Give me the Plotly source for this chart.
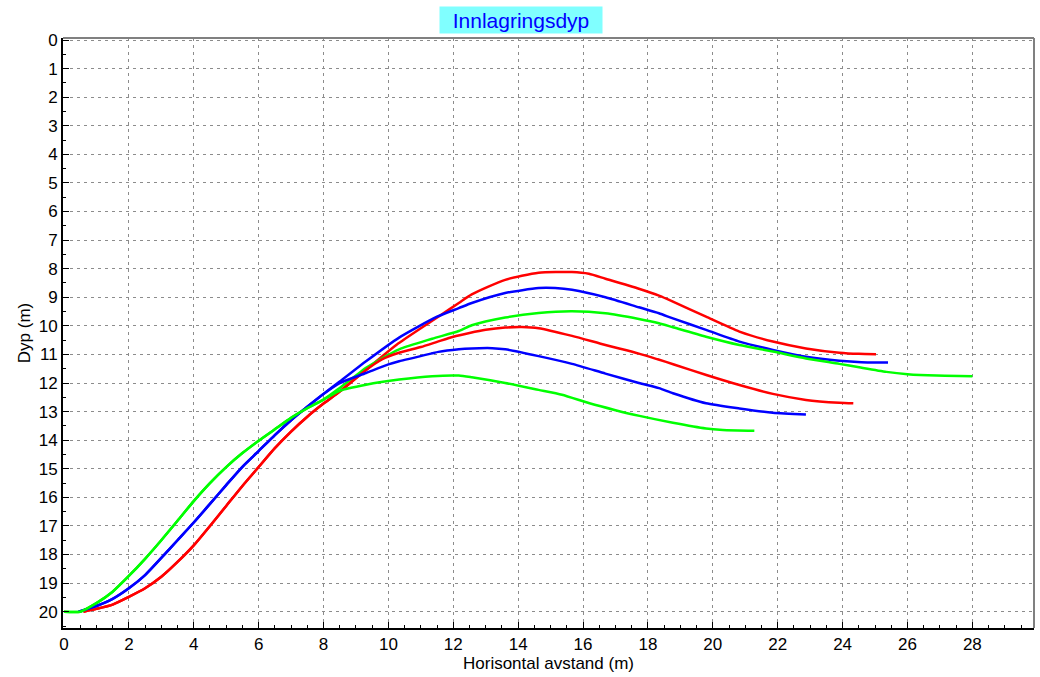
import plotly.graph_objects as go

# ---- data ----
red_upper_x = [0.6, 1.0, 1.5, 2.0, 2.5, 3.0, 3.5, 4.0, 4.5, 5.0, 5.5, 6.0, 6.5, 7.0, 7.5, 8.0, 8.5, 9.3, 10.3, 11.35, 11.55, 12.17, 12.57, 13.6, 14.63, 15.66, 16.18, 16.69, 17.72, 18.34, 18.77, 19.79, 20.82, 21.85, 22.87, 23.9, 24.5, 25.03]
red_upper_y = [20.0, 19.9, 19.75, 19.48, 19.18, 18.78, 18.26, 17.68, 17.0, 16.3, 15.6, 14.94, 14.28, 13.7, 13.18, 12.72, 12.3, 11.55, 10.62, 9.82, 9.67, 9.2, 8.9, 8.39, 8.14, 8.12, 8.18, 8.35, 8.7, 8.94, 9.15, 9.68, 10.2, 10.55, 10.79, 10.94, 10.98, 10.99]

red_lower_x = [0.6, 1.0, 1.5, 2.0, 2.5, 3.0, 3.5, 4.0, 4.5, 5.0, 5.5, 6.0, 6.5, 7.0, 7.5, 8.0, 8.5, 9.3, 9.8, 10.33, 11.0, 11.5, 12.0, 12.5, 13.0, 13.6, 14.11, 14.63, 15.66, 16.69, 17.72, 18.3, 18.8, 19.8, 20.82, 21.85, 22.87, 23.9, 24.33]
red_lower_y = [20.0, 19.9, 19.75, 19.48, 19.18, 18.78, 18.26, 17.68, 17.0, 16.3, 15.6, 14.94, 14.28, 13.7, 13.18, 12.72, 12.3, 11.55, 11.17, 10.94, 10.74, 10.56, 10.38, 10.25, 10.14, 10.06, 10.04, 10.08, 10.35, 10.67, 10.97, 11.17, 11.35, 11.72, 12.07, 12.38, 12.59, 12.69, 12.71]

blue_upper_x = [0.45, 1.0, 1.5, 2.0, 2.5, 3.0, 3.5, 4.0, 4.5, 5.0, 5.5, 6.0, 6.5, 7.0, 7.5, 8.0, 8.5, 9.31, 10.33, 11.5, 12.17, 12.57, 13.6, 14.63, 15.14, 15.66, 16.69, 17.72, 18.34, 18.77, 19.79, 20.82, 21.85, 22.87, 23.9, 24.58, 25.4]
blue_upper_y = [20.0, 19.8, 19.55, 19.18, 18.72, 18.12, 17.5, 16.88, 16.23, 15.57, 14.93, 14.38, 13.82, 13.3, 12.83, 12.38, 11.95, 11.24, 10.41, 9.68, 9.38, 9.2, 8.85, 8.68, 8.68, 8.74, 9.0, 9.35, 9.56, 9.74, 10.14, 10.55, 10.84, 11.08, 11.22, 11.27, 11.28]

blue_lower_x = [0.45, 1.0, 1.5, 2.0, 2.5, 3.0, 3.5, 4.0, 4.5, 5.0, 5.5, 6.0, 6.5, 7.0, 7.5, 8.0, 8.5, 9.31, 10.0, 10.33, 11.35, 11.54, 12.17, 12.57, 13.2, 13.6, 14.63, 15.66, 16.69, 17.72, 18.34, 18.77, 19.79, 20.82, 21.85, 22.87]
blue_lower_y = [20.0, 19.8, 19.55, 19.18, 18.72, 18.12, 17.5, 16.88, 16.23, 15.57, 14.93, 14.38, 13.82, 13.3, 12.83, 12.38, 12.0, 11.65, 11.35, 11.24, 10.96, 10.91, 10.82, 10.79, 10.78, 10.82, 11.06, 11.33, 11.67, 12.0, 12.18, 12.36, 12.71, 12.89, 13.04, 13.1]

green_upper_x = [0.0, 0.5, 1.0, 1.5, 2.0, 2.5, 3.0, 3.5, 4.0, 4.5, 5.0, 5.5, 6.0, 6.5, 7.0, 7.5, 8.0, 8.5, 9.0, 9.31, 10.33, 11.35, 12.17, 12.57, 13.6, 14.63, 15.66, 16.69, 17.72, 18.34, 18.77, 19.79, 20.82, 21.85, 22.87, 23.9, 24.51, 25.35, 26.0, 26.9, 28.0]
green_upper_y = [20.0, 20.0, 19.7, 19.3, 18.75, 18.15, 17.5, 16.82, 16.13, 15.5, 14.94, 14.45, 14.02, 13.62, 13.22, 12.88, 12.58, 12.17, 11.74, 11.47, 10.82, 10.45, 10.18, 9.98, 9.71, 9.55, 9.49, 9.56, 9.76, 9.91, 10.05, 10.38, 10.67, 10.9, 11.14, 11.33, 11.45, 11.61, 11.69, 11.74, 11.76]

green_lower_x = [0.0, 0.5, 1.0, 1.5, 2.0, 2.5, 3.0, 3.5, 4.0, 4.5, 5.0, 5.5, 6.0, 6.5, 7.0, 7.5, 8.0, 8.5, 9.31, 10.33, 11.35, 12.17, 12.57, 13.6, 14.63, 15.35, 16.2, 17.0, 17.74, 18.77, 19.79, 20.31, 21.28]
green_lower_y = [20.0, 20.0, 19.7, 19.3, 18.75, 18.15, 17.5, 16.82, 16.13, 15.5, 14.94, 14.45, 14.02, 13.62, 13.22, 12.88, 12.58, 12.27, 12.06, 11.88, 11.76, 11.74, 11.8, 12.0, 12.24, 12.41, 12.71, 12.95, 13.15, 13.39, 13.59, 13.64, 13.67]

x_ticks = list(range(0, 29, 2))
y_ticks = list(range(0, 21))

series = [
    (red_upper_x, red_upper_y, "#ff0000"),
    (blue_upper_x, blue_upper_y, "#0000ff"),
    (green_upper_x, green_upper_y, "#00ff00"),
    (red_lower_x, red_lower_y, "#ff0000"),
    (blue_lower_x, blue_lower_y, "#0000ff"),
    (green_lower_x, green_lower_y, "#00ff00"),
]

fig = go.Figure()
for xs, ys, col in series:
    fig.add_trace(go.Scatter(x=xs, y=ys, mode="lines",
                             line=dict(color=col, width=2.5, shape="spline", smoothing=0.6),
                             showlegend=False, hoverinfo="skip"))

FONT = "Liberation Sans, Arial, sans-serif"
grid = dict(showgrid=True, gridcolor="#8c8c8c", gridwidth=1, griddash="3px,4px")

fig.update_xaxes(range=[-0.03, 29.9], tickvals=x_ticks, ticktext=[str(v) for v in x_ticks],
                 ticks="inside", ticklen=6, tickcolor="#000", tickwidth=1,
                 minor=dict(dtick=0.5, tick0=0, ticks="inside", ticklen=3, tickcolor="#000", showgrid=False),
                 showline=True, linecolor="#000", linewidth=2,
                 zeroline=False, automargin=False,
                 tickfont=dict(family=FONT, size=17, color="#000"),
                 title=dict(text="Horisontal avstand (m)", font=dict(family=FONT, size=17, color="#000"), standoff=2),
                 **grid)
fig.update_yaxes(range=[20.57, -0.07], tickvals=y_ticks, ticktext=[str(v) for v in y_ticks],
                 ticks="inside", ticklen=6, tickcolor="#000", tickwidth=1,
                 minor=dict(dtick=0.5, tick0=0, ticks="inside", ticklen=3, tickcolor="#000", showgrid=False),
                 showline=True, linecolor="#000", linewidth=2,
                 zeroline=False, automargin=False,
                 tickfont=dict(family=FONT, size=17, color="#000"),
                 title=dict(text="Dyp (m)", font=dict(family=FONT, size=17, color="#000"), standoff=4),
                 **grid)

fig.add_shape(type="line", xref="paper", yref="paper", x0=0, x1=1, y0=1, y1=1,
              line=dict(color="#808080", width=2))
fig.add_shape(type="line", xref="paper", yref="paper", x0=1, x1=1, y0=0, y1=1,
              line=dict(color="#808080", width=2))

fig.add_annotation(text="Innlagringsdyp", xref="paper", yref="paper",
                   x=0.4717, y=1.0305, xanchor="center", yanchor="middle",
                   showarrow=False, bgcolor="#80ffff", width=160, height=24,
                   font=dict(family=FONT, size=21, color="#0000ff"))

fig.update_layout(width=1040, height=677,
                  margin=dict(l=63, r=6, t=38, b=49),
                  plot_bgcolor="#ffffff", paper_bgcolor="#ffffff")

fig.write_html("out.html", config={"displayModeBar": False},
               post_script="document.body.style.margin='0';document.body.style.overflow='hidden';")
